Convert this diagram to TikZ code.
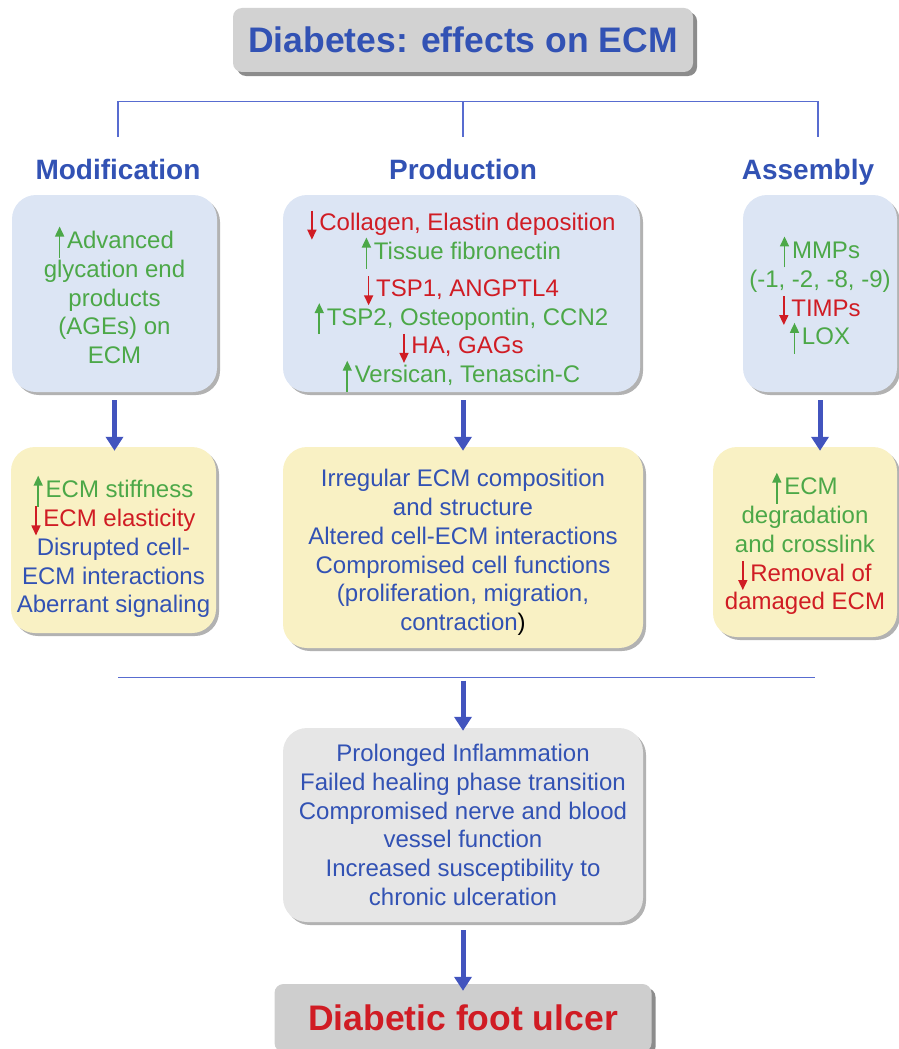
\documentclass[tikz,border=0pt]{standalone}
\usepackage{fontspec}
\setmainfont{Liberation Sans}
\usetikzlibrary{arrows.meta,shadows}

\definecolor{ecmblue}{RGB}{50,82,180}
\definecolor{ecmgreen}{RGB}{76,168,72}
\definecolor{ecmred}{RGB}{208,28,36}
\definecolor{boxblue}{RGB}{220,229,244}
\definecolor{boxyellow}{RGB}{249,241,196}
\definecolor{boxgray}{RGB}{230,230,230}
\definecolor{titlegray}{RGB}{210,210,210}
\definecolor{linkblue}{RGB}{88,108,208}
\definecolor{flowblue}{RGB}{66,84,190}

\newcommand{\arrup}{\smash{\tikz[baseline=0pt]\draw[ecmgreen,line width=1.6pt,-{Triangle[width=9pt,length=10pt]}] (0pt,-9pt) -- (0pt,22pt);}\hspace{3pt}}
\newcommand{\arrdn}{\smash{\tikz[baseline=0pt]\draw[ecmred,line width=1.6pt,-{Triangle[width=9pt,length=10pt]}] (0pt,20pt) -- (0pt,-9pt);}\hspace{3pt}}
\newcommand{\gr}[1]{\textcolor{ecmgreen}{#1}}
\newcommand{\rd}[1]{\textcolor{ecmred}{#1}}
\newcommand{\padtop}[1]{\rule{0pt}{#1}}

\begin{document}
\begin{tikzpicture}[
  head/.style={font=\fontsize{28}{32}\selectfont\bfseries, text=ecmblue, text height=20pt, text depth=6pt},
  cause/.style={rectangle, rounded corners=24pt, fill=boxblue, align=center, inner sep=0pt,
    font=\fontsize{24}{28.8}\selectfont,
    drop shadow={shadow xshift=3pt, shadow yshift=-3pt, fill=black, opacity=0.3}},
  effect/.style={cause, fill=boxyellow, text=ecmblue},
  outcome/.style={cause, fill=boxgray, text=ecmblue},
  banner/.style={rectangle, rounded corners=9pt, fill=titlegray, inner sep=0pt,
    drop shadow={shadow xshift=4pt, shadow yshift=-4pt, fill=black, opacity=0.45}},
  flow/.style={flowblue, line width=5pt, -{Triangle[width=17pt,length=14pt]}},
  link/.style={linkblue, line width=1.3pt},
  node distance=132pt
]
\useasboundingbox (0pt,0pt) rectangle (899pt,-1049pt);

\node[banner, minimum width=460pt, minimum height=64pt, text=ecmblue, font=\fontsize{35.5}{40}\selectfont\bfseries] (title) at (463pt,-40pt) {Diabetes: effects on ECM};

\node[head, below of=title] (prod) {Production};
\node[head, left of=prod, node distance=345pt] (mod) {Modification};
\node[head, right of=prod, node distance=345pt] (asm) {Assembly};

% first row: changes in the matrix
\node[cause, below of=mod, node distance=121.5pt, xshift=-3.5pt, minimum width=205pt, minimum height=197pt, text=ecmgreen] (agebox) {\padtop{25.5pt}\arrup Advanced\\glycation end\\products\\(AGEs) on\\ECM};
\node[cause, below of=prod, node distance=121.5pt, xshift=-1.5pt, minimum width=357pt, minimum height=197pt] (prodbox) {\padtop{29.5pt}\rd{\arrdn Collagen, Elastin deposition}\\\gr{\arrup Tissue fibronectin}\\[8pt]\rd{\arrdn TSP1, ANGPTL4}\\\gr{\arrup TSP2, Osteopontin, CCN2}\\\rd{\arrdn HA, GAGs}\\\gr{\arrup Versican, Tenascin-C}};
\node[cause, below of=asm, node distance=121.5pt, xshift=12pt, minimum width=154pt, minimum height=197pt, text=ecmgreen] (asmbox) {\arrup MMPs\\(-1, -2, -8, -9)\\\rd{\arrdn TIMPs}\\\arrup LOX};

% second row: consequences
\node[effect, below of=agebox, node distance=246.5pt, xshift=-1pt, minimum width=205pt, minimum height=186pt] (modeff) {\padtop{35.5pt}\gr{\arrup ECM stiffness}\\\rd{\arrdn ECM elasticity}\\Disrupted cell-\\ECM interactions\\Aberrant signaling};
\node[effect, below of=prodbox, node distance=254pt, xshift=1.5pt, minimum width=360pt, minimum height=201pt] (prodeff) {\padtop{27.5pt}Irregular ECM composition\\and structure\\Altered cell-ECM interactions\\Compromised cell functions\\(proliferation, migration,\\contraction\textcolor{black}{)}};
\node[effect, below of=asmbox, node distance=248.5pt, xshift=-15pt, minimum width=184pt, minimum height=190pt] (asmeff) {\padtop{25.5pt}\gr{\arrup ECM}\\\gr{degradation}\\\gr{and crosslink}\\\rd{\arrdn Removal of}\\\rd{damaged ECM}};

\node[outcome, below of=prodeff, node distance=277.5pt, minimum width=360pt, minimum height=194pt] (healing) {Prolonged Inflammation\\Failed healing phase transition\\Compromised nerve and blood\\vessel function\\Increased susceptibility to\\chronic ulceration};
\node[banner, below of=healing, node distance=193pt, minimum width=377pt, minimum height=68pt, fill=titlegray!98!black, text=ecmred, font=\fontsize{35.5}{40}\selectfont\bfseries] (dfu) {Diabetic foot ulcer};

% bracket under the title
\coordinate (fork) at ([yshift=-29pt]title.south);
\coordinate (modtop) at ([yshift=35pt]mod.center);
\coordinate (prodtop) at ([yshift=35pt]prod.center);
\coordinate (asmtop) at ([xshift=10pt,yshift=35pt]asm.center);
\draw[link] (modtop) |- (fork) -| (asmtop);
\draw[link] (fork) -- (prodtop);

\draw[flow] ([yshift=-8pt]agebox.south) -- ([yshift=-4pt]agebox.south |- modeff.north);
\draw[flow] ([yshift=-8pt]prodbox.south -| prodeff.north) -- ([yshift=-4pt]prodeff.north);
\draw[flow] ([yshift=-8pt]asmbox.south) -- ([yshift=-4pt]asmbox.south |- asmeff.north);

% join line over the outcome
\coordinate (join) at ([yshift=-29.5pt]prodeff.south);
\draw[link] (join -| mod) -- ([xshift=7pt]join -| asm);
\draw[flow] ([yshift=-3pt]join) -- ([yshift=-3pt]healing.north);
\draw[flow] ([yshift=-8pt]healing.south) -- ([yshift=-7pt]dfu.north);
\end{tikzpicture}
\end{document}
